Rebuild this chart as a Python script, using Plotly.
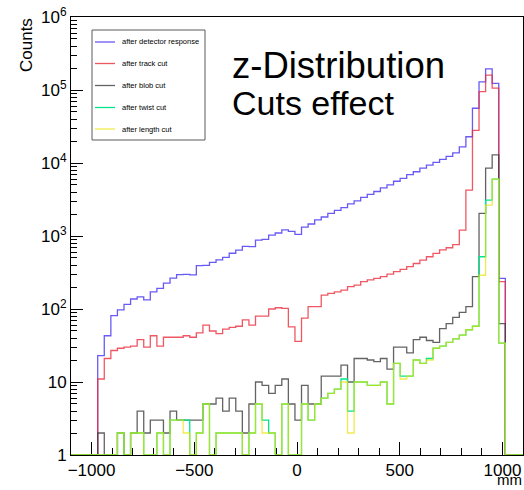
import plotly.graph_objects as go

# ---- histogram binning (mm) ----
bin_lo = -970.0
bin_width = 32.0

# ---- counts per bin, z distribution after each successive cut ----
after_detector = [23, 43, 81, 97, 116, 137, 147, 133, 172, 192,
                  226, 264, 295, 298, 293, 392, 395, 434, 470, 510,
                  580, 640, 720, 715, 880, 900, 1030, 1100, 1210, 1160,
                  1050, 1320, 1460, 1660, 1820, 2040, 2240, 2450, 2750, 3020,
                  3390, 3720, 4070, 4570, 5010, 5620, 6170, 6920, 7590, 8510,
                  9330, 10200, 11200, 12300, 13800, 16600, 22900, 56200, 129000, 195000,
                  123000, 263]
after_track = [11, 21, 27, 29, 30, 31, 38, 30, 43, 31,
               41, 41, 41, 43, 41, 47, 60, 50, 46, 53,
               56, 58, 71, 60, 80, 80, 100, 104, 102, 57,
               36, 75, 108, 108, 155, 164, 172, 181, 202, 213,
               237, 250, 263, 278, 300, 325, 348, 380, 420, 468,
               520, 577, 645, 690, 760, 1200, 4260, 28000, 95000, 160000,
               106000, 237]
after_blob = [2, 0, 0, 2, 0, 2, 4, 2, 3, 3,
              2, 4, 3, 3, 3, 3, 5, 5, 6, 4,
              6, 4, 2, 5, 10, 9, 7, 9, 11, 5,
              3, 9, 5, 5, 12, 12, 12, 17, 10, 21,
              21, 20, 19, 21, 15, 30, 30, 25, 38, 41,
              37, 35, 54, 63, 77, 90, 108, 277, 2040, 8500,
              12900, 63]
after_twist = [0, 0, 0, 2, 0, 2, 2, 0, 0, 2,
               0, 3, 3, 3, 0, 2, 5, 0, 2, 2,
               2, 2, 0, 2, 5, 3, 2, 0, 5, 0,
               0, 5, 3, 5, 6, 7, 8, 11, 4, 10,
               10, 9, 9, 10, 5, 18, 12, 12, 20, 18,
               21, 29, 31, 35, 39, 44, 52, 58, 520, 3100,
               6000, 34]
after_length = [0, 0, 0, 2, 0, 2, 2, 0, 0, 2,
                0, 3, 3, 2, 0, 2, 5, 0, 2, 2,
                2, 2, 0, 2, 5, 2, 2, 0, 5, 0,
                0, 5, 3, 5, 6, 7, 8, 10, 2, 10,
                10, 9, 9, 10, 5, 18, 11, 12, 20, 18,
                20, 29, 31, 35, 39, 44, 52, 58, 290, 2650,
                6000, 34]

series_names = ["after detector response", "after track cut", "after blob cut",
                "after twist cut", "after length cut"]
series_values = [after_detector, after_track, after_blob, after_twist, after_length]
series_colors = ["rgb(105,90,245)", "rgba(235,45,60,0.8)", "rgba(60,60,60,0.8)",
                 "rgb(0,230,140)", "rgba(235,225,0,0.7)"]

x_range = [-1100, 1100]
y_min = 1  # empty bins sit on the bottom of the log frame

# figure geometry (pixels)
W, H = 524, 490
ML, MR, MT, MB = 71, 1, 17, 35
PW, PH = W - ML - MR, H - MT - MB


def px(xp):
    return (xp - ML) / PW


def py(yp):
    return (H - MB - yp) / PH


def step_xy(counts):
    """Stepped outline over the whole axis range, ROOT style."""
    n = len(counts)
    edges = [bin_lo + i * bin_width for i in range(n + 1)]
    xs = [x_range[0]] + edges + [x_range[1]]
    ys = [y_min] + [max(c, y_min) for c in counts] + [y_min, y_min]
    return xs, ys


fig = go.Figure()
for name, vals, col in zip(series_names, series_values, series_colors):
    xs, ys = step_xy(vals)
    fig.add_trace(go.Scatter(x=xs, y=ys, mode="lines", name=name,
                             line=dict(color=col, width=1.3, shape="hv"),
                             showlegend=False, hoverinfo="skip"))

font_family = "Liberation Sans, Arial, sans-serif"

decades = list(range(0, 7))
ytick_vals = [10 ** d for d in decades]
ytick_text = ["1", "10"] + ["10<sup>%d</sup>" % d for d in decades[2:]]
yminor_vals = [m * 10 ** d for d in decades[:-1] for m in range(2, 10)]

fig.update_layout(
    width=W, height=H,
    margin=dict(l=ML, r=MR, t=MT, b=MB),
    paper_bgcolor="white", plot_bgcolor="white",
    font=dict(family=font_family, color="black"),
    xaxis=dict(range=x_range, tickvals=[-1000, -500, 0, 500, 1000],
               ticks="inside", ticklen=13, tickwidth=1, tickcolor="black",
               minor=dict(dtick=100, tick0=0, ticks="inside", ticklen=7,
                          tickwidth=1, tickcolor="black"),
               showline=True, linecolor="black", linewidth=1, mirror=True,
               showgrid=False, zeroline=False, layer="below traces",
               tickfont=dict(size=17, family=font_family)),
    yaxis=dict(type="log", range=[0, 6], tickvals=ytick_vals, ticktext=ytick_text,
               ticks="inside", ticklen=12, tickwidth=1, tickcolor="black",
               minor=dict(tickvals=yminor_vals, ticks="inside", ticklen=6,
                          tickwidth=1, tickcolor="black"),
               showline=True, linecolor="black", linewidth=1, mirror=True,
               showgrid=False, zeroline=False, layer="below traces",
               tickfont=dict(size=17, family=font_family)),
)

annotations = [
    dict(text="Counts", x=px(26), y=py(45), xref="paper", yref="paper",
         textangle=-90, showarrow=False, xanchor="center", yanchor="middle",
         font=dict(size=17, family=font_family)),
    dict(text="mm", x=px(W), y=py(H), xref="paper", yref="paper",
         showarrow=False, xanchor="right", yanchor="bottom",
         font=dict(size=15, family=font_family)),
    dict(text="z-Distribution", x=px(230), y=py(65), xref="paper", yref="paper",
         showarrow=False, xanchor="left", yanchor="middle",
         font=dict(size=36.5, family=font_family)),
    dict(text="Cuts effect", x=px(230), y=py(103), xref="paper", yref="paper",
         showarrow=False, xanchor="left", yanchor="middle",
         font=dict(size=34, family=font_family)),
]

# legend box drawn by hand, ROOT TLegend look
shapes = [dict(type="rect", xref="paper", yref="paper",
               x0=px(92), x1=px(205), y0=py(140), y1=py(30),
               line=dict(color="rgb(90,90,90)", width=1), fillcolor="white",
               layer="above")]
row_y = [42, 63.5, 85.5, 107.5, 129]
for name, col, ry in zip(series_names, series_colors, row_y):
    shapes.append(dict(type="line", xref="paper", yref="paper",
                       x0=px(95), x1=px(115), y0=py(ry), y1=py(ry),
                       line=dict(color=col, width=1.3), layer="above"))
    annotations.append(dict(text=name, x=px(120), y=py(ry), xref="paper", yref="paper",
                            showarrow=False, xanchor="left", yanchor="middle",
                            font=dict(size=7.5, family=font_family)))

fig.update_layout(shapes=shapes, annotations=annotations)
fig.write_html("out.html")
